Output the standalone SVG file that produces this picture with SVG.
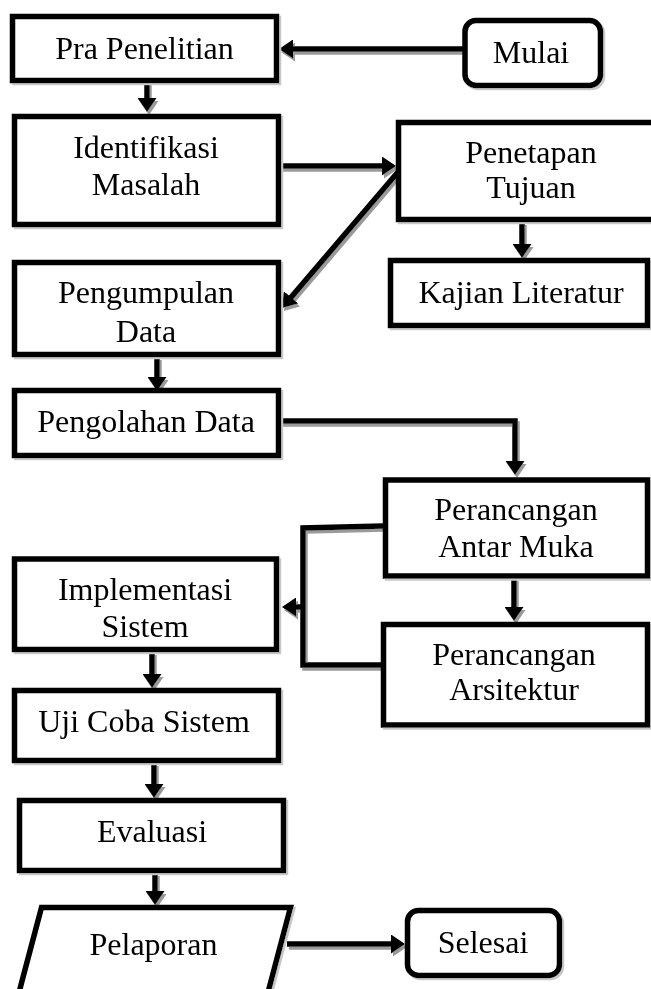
<svg xmlns="http://www.w3.org/2000/svg" width="651" height="989" viewBox="0 0 651 989">
<style>
.box{fill:#fff;stroke:#000;stroke-width:5.5}
.t{font-family:"Liberation Serif","Times New Roman",serif;font-size:32px;fill:#000;text-anchor:middle}
.c{fill:none;stroke:#000;stroke-width:5.5}
.a{marker-end:url(#ah)}
</style>
<defs>
<marker id="ah" markerUnits="userSpaceOnUse" viewBox="0 0 14 19" refX="1" refY="9.5" markerWidth="14" markerHeight="19" orient="auto">
<path d="M0,0 L14,9.5 L0,19 z" fill="#000"/>
</marker>
<filter id="csh" filterUnits="userSpaceOnUse" x="0" y="0" width="651" height="989">
<feOffset in="SourceAlpha" dx="2" dy="3" result="o"/>
<feFlood flood-color="#9a9a9a"/>
<feComposite in2="o" operator="in" result="s"/>
<feMerge><feMergeNode in="s"/><feMergeNode in="SourceGraphic"/></feMerge>
</filter>
<filter id="bsh" filterUnits="userSpaceOnUse" x="0" y="0" width="651" height="989">
<feOffset in="SourceAlpha" dx="2" dy="2" result="o"/>
<feFlood flood-color="#c8c8c8"/>
<feComposite in2="o" operator="in" result="s"/>
<feMerge><feMergeNode in="s"/><feMergeNode in="SourceGraphic"/></feMerge>
</filter>
</defs>
<rect width="651" height="989" fill="#fff"/>
<g id="connectors" filter="url(#csh)">
<path class="c a" d="M463,49 H292"/>
<path class="c a" d="M147,81 V99"/>
<path class="c a" d="M279,166 H383"/>
<path class="c a" d="M398,172 L290.4,298.1"/>
<path class="c a" d="M522,222 V245"/>
<path class="c a" d="M157,357 V378"/>
<path class="c a" d="M279,421 H515 V462"/>
<path class="c" d="M383,526 L303,528 V665 H381"/>
<path class="c a" d="M304,607 H295"/>
<path class="c a" d="M514,578 V608"/>
<path class="c a" d="M152,652 V675"/>
<path class="c a" d="M154,763 V785"/>
<path class="c a" d="M155,873 V892"/>
<path class="c a" d="M287,944 H392"/>
</g>
<g id="pra" filter="url(#bsh)">
<rect class="box" x="12.5" y="16.5" width="264" height="64"/>
<text class="t" x="144.5" y="59">Pra Penelitian</text>
</g>
<g id="mulai" filter="url(#bsh)">
<rect class="box" x="465" y="20.5" width="135.5" height="65" rx="11"/>
<text class="t" x="531" y="63">Mulai</text>
</g>
<g id="identifikasi" filter="url(#bsh)">
<rect class="box" x="14.5" y="116.5" width="264" height="108"/>
<text class="t" x="146" y="158">Identifikasi</text>
<text class="t" x="146" y="195">Masalah</text>
</g>
<g id="penetapan" filter="url(#bsh)">
<rect class="box" x="398.5" y="122.5" width="257" height="97"/>
<text class="t" x="531" y="163">Penetapan</text>
<text class="t" x="531" y="198">Tujuan</text>
</g>
<g id="kajian" filter="url(#bsh)">
<rect class="box" x="390.5" y="260.5" width="257" height="65"/>
<text class="t" x="521" y="303">Kajian Literatur</text>
</g>
<g id="pengumpulan" filter="url(#bsh)">
<rect class="box" x="14.5" y="262.5" width="264" height="92"/>
<text class="t" x="146" y="303">Pengumpulan</text>
<text class="t" x="146" y="342">Data</text>
</g>
<g id="pengolahan" filter="url(#bsh)">
<rect class="box" x="14.5" y="390.5" width="264" height="65"/>
<text class="t" x="146" y="432">Pengolahan Data</text>
</g>
<g id="antarmuka" filter="url(#bsh)">
<rect class="box" x="385.5" y="480" width="262" height="96"/>
<text class="t" x="516" y="520">Perancangan</text>
<text class="t" x="516" y="557">Antar Muka</text>
</g>
<g id="implementasi" filter="url(#bsh)">
<rect class="box" x="14.5" y="559" width="262" height="90.5"/>
<text class="t" x="145" y="600">Implementasi</text>
<text class="t" x="145" y="637">Sistem</text>
</g>
<g id="arsitektur" filter="url(#bsh)">
<rect class="box" x="383.5" y="624.5" width="264" height="100.5"/>
<text class="t" x="514" y="665">Perancangan</text>
<text class="t" x="514" y="700">Arsitektur</text>
</g>
<g id="uji" filter="url(#bsh)">
<rect class="box" x="14.5" y="690.5" width="264" height="70"/>
<text class="t" x="144" y="732">Uji Coba Sistem</text>
</g>
<g id="evaluasi" filter="url(#bsh)">
<rect class="box" x="19.5" y="800.5" width="264" height="70"/>
<text class="t" x="152" y="842">Evaluasi</text>
</g>
<g id="pelaporan" filter="url(#bsh)">
<polygon class="box" points="41.5,907.5 290.5,907.5 266,1000 17,1000"/>
<text class="t" x="153.5" y="955">Pelaporan</text>
</g>
<g id="selesai" filter="url(#bsh)">
<rect class="box" x="407.5" y="910.5" width="152" height="65" rx="11"/>
<text class="t" x="483" y="953">Selesai</text>
</g>
</svg>
